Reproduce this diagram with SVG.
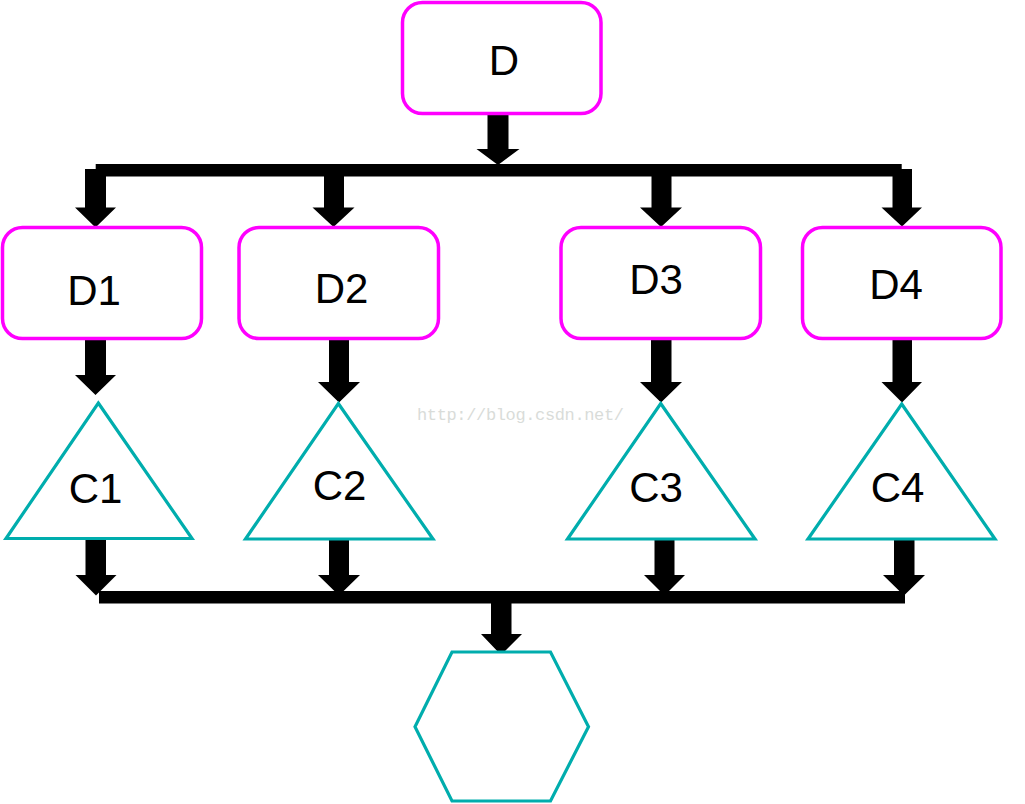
<svg xmlns="http://www.w3.org/2000/svg" width="1025" height="804" viewBox="0 0 1025 804">
<style>
.box{fill:#fff;stroke:#ff00ff;stroke-width:3.5}
.tri{fill:#fff;stroke:#00adad;stroke-width:3.2;stroke-linejoin:miter}
.hex{fill:#fff;stroke:#00adad;stroke-width:3.2}
.arr{fill:#000}
.lbl{font-family:"Liberation Sans",Arial,sans-serif;font-size:42px;fill:#000;text-anchor:middle}
.wm{font-family:"Liberation Mono","Courier New",monospace;font-size:17px;fill:#d9dcd9}
</style>
<rect width="1025" height="804" fill="#fff"/>
<g id="connectors">
<rect class="arr" x="95.7" y="164" width="806" height="12.5"/>
<rect class="arr" x="99" y="591" width="806" height="12.5"/>
<polygon class="arr" points="487.5,112 508.5,112 508.5,149 519.5,149 498,165 476.5,149 487.5,149"/>
<polygon class="arr" points="85,169 106,169 106,207.5 116,207.5 95.5,227.5 75,207.5 85,207.5"/>
<polygon class="arr" points="324,169 344,169 344,207.5 354.5,207.5 333.5,227 312.5,207.5 324,207.5"/>
<polygon class="arr" points="651.5,169 671.5,169 671.5,207.5 682,207.5 661,227 640,207.5 651.5,207.5"/>
<polygon class="arr" points="892.5,169 912,169 912,207.5 922,207.5 902,226.5 881.5,207.5 892.5,207.5"/>
<polygon class="arr" points="85,338 106,338 106,375 116,375 95.5,395 75,375 85,375"/>
<polygon class="arr" points="329,340 349,340 349,382 360,382 339,402.5 318,382 329,382"/>
<polygon class="arr" points="651,340 671.5,340 671.5,382 682,382 661,402.5 640,382 651,382"/>
<polygon class="arr" points="892.5,340 912,340 912,382 922,382 902,402.5 881.5,382 892.5,382"/>
<polygon class="arr" points="85.5,538 106,538 106,575 116.5,575 96,595.5 75.5,575 85.5,575"/>
<polygon class="arr" points="329,538 349,538 349,575 360,575 339,595.5 318,575 329,575"/>
<polygon class="arr" points="654.5,538 674.5,538 674.5,575 685,575 664.5,595.5 644,575 654.5,575"/>
<polygon class="arr" points="894,538 914.5,538 914.5,575 925,575 904,595.5 883,575 894,575"/>
<polygon class="arr" points="491,600 511.5,600 511.5,634 522,634 501,655 481,634 491,634"/>
</g>
<g id="D">
<rect class="box" x="402.5" y="2.5" width="198.5" height="111" rx="20"/>
<text class="lbl" x="504" y="75">D</text>
</g>
<g id="D1">
<rect class="box" x="2.5" y="227.5" width="199" height="111" rx="20"/>
<text class="lbl" x="94" y="305">D1</text>
</g>
<g id="D2">
<rect class="box" x="239" y="227.5" width="199.5" height="111" rx="20"/>
<text class="lbl" x="341.5" y="303">D2</text>
</g>
<g id="D3">
<rect class="box" x="561" y="227.5" width="199.5" height="111" rx="20"/>
<text class="lbl" x="656" y="294">D3</text>
</g>
<g id="D4">
<rect class="box" x="802.5" y="227.5" width="198.5" height="111" rx="20"/>
<text class="lbl" x="896" y="299">D4</text>
</g>
<g id="C1">
<polygon class="tri" points="98.3,403 192,538.5 6,538.5"/>
<text class="lbl" x="95.5" y="503">C1</text>
</g>
<g id="C2">
<polygon class="tri" points="338.3,403.5 433,539 245.5,539"/>
<text class="lbl" x="339.5" y="500">C2</text>
</g>
<g id="C3">
<polygon class="tri" points="660.7,403.5 755,539 567.5,539"/>
<text class="lbl" x="656" y="502">C3</text>
</g>
<g id="C4">
<polygon class="tri" points="901.7,404 995,539 808,539"/>
<text class="lbl" x="897.5" y="502">C4</text>
</g>
<g id="E">
<polygon class="hex" points="452,652 550.5,652 588.5,726.7 550.5,801 452,801 415,726.7"/>
</g>
<text class="wm" x="417" y="420" textLength="207" lengthAdjust="spacing">http://blog.csdn.net/</text>
</svg>
